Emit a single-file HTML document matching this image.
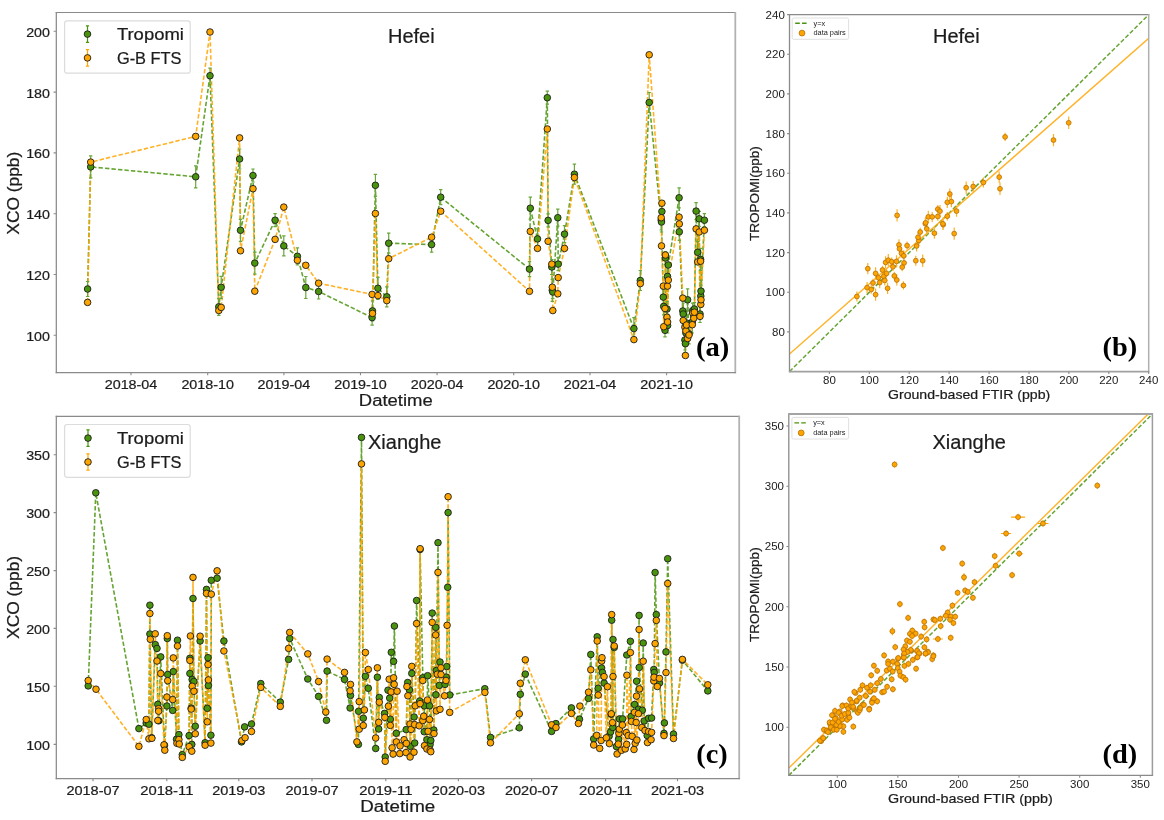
<!DOCTYPE html>
<html><head><meta charset="utf-8"><title>XCO comparison</title>
<style>html,body{margin:0;padding:0;background:#fff}svg{display:block;will-change:transform}</style></head>
<body>
<svg width="1164" height="820" viewBox="0 0 1164 820" font-family='"Liberation Sans", sans-serif'>
<rect width="1164" height="820" fill="#fff"/>
<clipPath id="ca"><rect x="56.3" y="12.5" width="679.0" height="360.1"/></clipPath>
<g clip-path="url(#ca)">
<path d="M87.6 289L90.7 166.9L195.7 176.8L210 75.7L218.8 306.8L221.2 287.3L239.6 159L240.5 230.3L253 175.5L254.8 263.1L275.1 220.2L283.8 245.9L297.4 256.3L305.8 287.5L318.6 291.5L372.1 317.6L372.5 310.9L375.4 185.3L377.9 288.3L386.8 296.8L388.7 243.2L431.6 244.6L440.7 197.2L529.5 269.1L530.3 208.2L537.5 238.9L547.3 97.7L548.1 220.4L551.8 267L552.3 290.3L552.8 292L557.8 217.7L558.2 264.1L564.5 234.1L574.4 174.2L633.9 328.6L640.3 280.5L649.2 102.5L661.2 220L661.9 211.5L661.5 222L663.3 297.1L663.7 306.4L665 330.3L665.4 258L667 309L667.5 276.4L667.6 325.5L668.3 265L679.1 197.8L679.3 231.8L682.8 311L683.2 314L684.9 340L685.4 343.7L685.9 333L686.5 323L687.6 299.8L689 333.8L692.3 322L692.7 310.6L693.8 316L694.4 309L696.1 211.1L697.7 252.3L699.2 218.8L700 314L700.6 259.4L700.8 296.1L701 291.1L704.4 220.2" fill="none" stroke="#4a940d" stroke-width="1.6" stroke-dasharray="4.4 2.1" stroke-linejoin="round" opacity="0.85"/>
<path d="M87.6 302.4L90.7 162.1L195.7 136.4L210 32L218.8 310.5L221.2 307.4L239.6 137.9L240.5 250.8L253 188.7L254.8 291.2L275.1 239.4L283.8 207.1L297.4 260.3L305.8 265.3L318.6 283.2L372.1 294.4L372.5 313.4L375.4 213.5L377.9 295.6L386.8 300.6L388.7 258.7L431.6 237.2L440.7 211.2L529.5 291.3L530.3 231.4L537.5 248.4L547.3 129L548.1 241.3L551.8 264.1L552.3 287.2L552.8 310.6L557.8 293.8L558.2 277.6L564.5 248.4L574.4 177.5L633.9 339.6L640.3 283.6L649.2 54.8L661.2 217.7L661.9 203.2L661.5 245.9L663.3 286.1L663.7 326.7L665 308.5L665.4 255L667 317.2L667.5 286.1L667.6 322L668.3 280.1L679.1 217.1L679.3 223.9L682.8 298.1L683.2 320.5L684.9 327.2L685.4 355.5L685.9 330.9L686.5 325L687.6 338.5L689 335L692.3 324.7L692.7 313L693.8 318.2L694.4 312.2L696.1 228.9L697.7 261.9L699.2 232L700 316.4L700.6 261.2L700.8 304.4L701 299.8L704.4 230.2" fill="none" stroke="#ffa500" stroke-width="1.6" stroke-dasharray="4.4 2.1" stroke-linejoin="round" opacity="0.85"/>
<path d="M87.6 281.5V296.5M85.9 281.5h3.4M85.9 296.5h3.4M90.7 155.9V177.9M89 155.9h3.4M89 177.9h3.4M195.7 165.8V187.8M194 165.8h3.4M194 187.8h3.4M210 68.2V83.2M208.3 68.2h3.4M208.3 83.2h3.4M218.8 298.3V315.3M217.1 298.3h3.4M217.1 315.3h3.4M221.2 276.3V298.3M219.5 276.3h3.4M219.5 298.3h3.4M239.6 149V169M237.9 149h3.4M237.9 169h3.4M240.5 219.3V241.3M238.8 219.3h3.4M238.8 241.3h3.4M253 169V182M251.3 169h3.4M251.3 182h3.4M254.8 252.1V274.1M253.1 252.1h3.4M253.1 274.1h3.4M275.1 213.7V226.7M273.4 213.7h3.4M273.4 226.7h3.4M283.8 235.9V255.9M282.1 235.9h3.4M282.1 255.9h3.4M297.4 247.8V264.8M295.7 247.8h3.4M295.7 264.8h3.4M305.8 276.5V298.5M304.1 276.5h3.4M304.1 298.5h3.4M318.6 284V299M316.9 284h3.4M316.9 299h3.4M372.1 310.1V325.1M370.4 310.1h3.4M370.4 325.1h3.4M372.5 300.9V320.9M370.8 300.9h3.4M370.8 320.9h3.4M375.4 174.3V196.3M373.7 174.3h3.4M373.7 196.3h3.4M377.9 277.3V299.3M376.2 277.3h3.4M376.2 299.3h3.4M386.8 286.8V306.8M385.1 286.8h3.4M385.1 306.8h3.4M388.7 233.2V253.2M387 233.2h3.4M387 253.2h3.4M431.6 237.1V252.1M429.9 237.1h3.4M429.9 252.1h3.4M440.7 189.7V204.7M439 189.7h3.4M439 204.7h3.4M529.5 261.6V276.6M527.8 261.6h3.4M527.8 276.6h3.4M530.3 197.2V219.2M528.6 197.2h3.4M528.6 219.2h3.4M537.5 228.9V248.9M535.8 228.9h3.4M535.8 248.9h3.4M547.3 91.2V104.2M545.6 91.2h3.4M545.6 104.2h3.4M548.1 213.9V226.9M546.4 213.9h3.4M546.4 226.9h3.4M551.8 259.5V274.5M550.1 259.5h3.4M550.1 274.5h3.4M552.3 279.3V301.3M550.6 279.3h3.4M550.6 301.3h3.4M552.8 285.5V298.5M551.1 285.5h3.4M551.1 298.5h3.4M557.8 209.2V226.2M556.1 209.2h3.4M556.1 226.2h3.4M558.2 257.6V270.6M556.5 257.6h3.4M556.5 270.6h3.4M564.5 225.6V242.6M562.8 225.6h3.4M562.8 242.6h3.4M574.4 164.2V184.2M572.7 164.2h3.4M572.7 184.2h3.4M633.9 317.6V339.6M632.2 317.6h3.4M632.2 339.6h3.4M640.3 270.5V290.5M638.6 270.5h3.4M638.6 290.5h3.4M649.2 92.5V112.5M647.5 92.5h3.4M647.5 112.5h3.4M661.2 210V230M659.5 210h3.4M659.5 230h3.4M661.9 200.5V222.5M660.2 200.5h3.4M660.2 222.5h3.4M661.5 212V232M659.8 212h3.4M659.8 232h3.4M663.3 289.6V304.6M661.6 289.6h3.4M661.6 304.6h3.4M663.7 297.9V314.9M662 297.9h3.4M662 314.9h3.4M665 323.8V336.8M663.3 323.8h3.4M663.3 336.8h3.4M665.4 251.5V264.5M663.7 251.5h3.4M663.7 264.5h3.4M667 301.5V316.5M665.3 301.5h3.4M665.3 316.5h3.4M667.5 266.4V286.4M665.8 266.4h3.4M665.8 286.4h3.4M667.6 318V333M665.9 318h3.4M665.9 333h3.4M668.3 256.5V273.5M666.6 256.5h3.4M666.6 273.5h3.4M679.1 187.8V207.8M677.4 187.8h3.4M677.4 207.8h3.4M679.3 223.3V240.3M677.6 223.3h3.4M677.6 240.3h3.4M682.8 301V321M681.1 301h3.4M681.1 321h3.4M683.2 303V325M681.5 303h3.4M681.5 325h3.4M684.9 330V350M683.2 330h3.4M683.2 350h3.4M685.4 332.7V354.7M683.7 332.7h3.4M683.7 354.7h3.4M685.9 324.5V341.5M684.2 324.5h3.4M684.2 341.5h3.4M686.5 312V334M684.8 312h3.4M684.8 334h3.4M687.6 288.8V310.8M685.9 288.8h3.4M685.9 310.8h3.4M689 323.8V343.8M687.3 323.8h3.4M687.3 343.8h3.4M692.3 311V333M690.6 311h3.4M690.6 333h3.4M692.7 303.1V318.1M691 303.1h3.4M691 318.1h3.4M693.8 307.5V324.5M692.1 307.5h3.4M692.1 324.5h3.4M694.4 302.5V315.5M692.7 302.5h3.4M692.7 315.5h3.4M696.1 202.6V219.6M694.4 202.6h3.4M694.4 219.6h3.4M697.7 241.3V263.3M696 241.3h3.4M696 263.3h3.4M699.2 211.3V226.3M697.5 211.3h3.4M697.5 226.3h3.4M700 305.5V322.5M698.3 305.5h3.4M698.3 322.5h3.4M700.6 248.4V270.4M698.9 248.4h3.4M698.9 270.4h3.4M700.8 285.1V307.1M699.1 285.1h3.4M699.1 307.1h3.4M701 280.1V302.1M699.3 280.1h3.4M699.3 302.1h3.4M704.4 213.7V226.7M702.7 213.7h3.4M702.7 226.7h3.4" fill="none" stroke="#6aa63a" stroke-width="1.2"/>
<g fill="#4a940d" stroke="#1c1c1c" stroke-width="0.9">
<circle cx="87.6" cy="289" r="3.3"/><circle cx="90.7" cy="166.9" r="3.3"/><circle cx="195.7" cy="176.8" r="3.3"/><circle cx="210" cy="75.7" r="3.3"/><circle cx="218.8" cy="306.8" r="3.3"/><circle cx="221.2" cy="287.3" r="3.3"/><circle cx="239.6" cy="159" r="3.3"/><circle cx="240.5" cy="230.3" r="3.3"/><circle cx="253" cy="175.5" r="3.3"/><circle cx="254.8" cy="263.1" r="3.3"/><circle cx="275.1" cy="220.2" r="3.3"/><circle cx="283.8" cy="245.9" r="3.3"/><circle cx="297.4" cy="256.3" r="3.3"/><circle cx="305.8" cy="287.5" r="3.3"/><circle cx="318.6" cy="291.5" r="3.3"/><circle cx="372.1" cy="317.6" r="3.3"/><circle cx="372.5" cy="310.9" r="3.3"/><circle cx="375.4" cy="185.3" r="3.3"/><circle cx="377.9" cy="288.3" r="3.3"/><circle cx="386.8" cy="296.8" r="3.3"/><circle cx="388.7" cy="243.2" r="3.3"/><circle cx="431.6" cy="244.6" r="3.3"/><circle cx="440.7" cy="197.2" r="3.3"/><circle cx="529.5" cy="269.1" r="3.3"/><circle cx="530.3" cy="208.2" r="3.3"/><circle cx="537.5" cy="238.9" r="3.3"/><circle cx="547.3" cy="97.7" r="3.3"/><circle cx="548.1" cy="220.4" r="3.3"/><circle cx="551.8" cy="267" r="3.3"/><circle cx="552.3" cy="290.3" r="3.3"/><circle cx="552.8" cy="292" r="3.3"/><circle cx="557.8" cy="217.7" r="3.3"/><circle cx="558.2" cy="264.1" r="3.3"/><circle cx="564.5" cy="234.1" r="3.3"/><circle cx="574.4" cy="174.2" r="3.3"/><circle cx="633.9" cy="328.6" r="3.3"/><circle cx="640.3" cy="280.5" r="3.3"/><circle cx="649.2" cy="102.5" r="3.3"/><circle cx="661.2" cy="220" r="3.3"/><circle cx="661.9" cy="211.5" r="3.3"/><circle cx="661.5" cy="222" r="3.3"/><circle cx="663.3" cy="297.1" r="3.3"/><circle cx="663.7" cy="306.4" r="3.3"/><circle cx="665" cy="330.3" r="3.3"/><circle cx="665.4" cy="258" r="3.3"/><circle cx="667" cy="309" r="3.3"/><circle cx="667.5" cy="276.4" r="3.3"/><circle cx="667.6" cy="325.5" r="3.3"/><circle cx="668.3" cy="265" r="3.3"/><circle cx="679.1" cy="197.8" r="3.3"/><circle cx="679.3" cy="231.8" r="3.3"/><circle cx="682.8" cy="311" r="3.3"/><circle cx="683.2" cy="314" r="3.3"/><circle cx="684.9" cy="340" r="3.3"/><circle cx="685.4" cy="343.7" r="3.3"/><circle cx="685.9" cy="333" r="3.3"/><circle cx="686.5" cy="323" r="3.3"/><circle cx="687.6" cy="299.8" r="3.3"/><circle cx="689" cy="333.8" r="3.3"/><circle cx="692.3" cy="322" r="3.3"/><circle cx="692.7" cy="310.6" r="3.3"/><circle cx="693.8" cy="316" r="3.3"/><circle cx="694.4" cy="309" r="3.3"/><circle cx="696.1" cy="211.1" r="3.3"/><circle cx="697.7" cy="252.3" r="3.3"/><circle cx="699.2" cy="218.8" r="3.3"/><circle cx="700" cy="314" r="3.3"/><circle cx="700.6" cy="259.4" r="3.3"/><circle cx="700.8" cy="296.1" r="3.3"/><circle cx="701" cy="291.1" r="3.3"/><circle cx="704.4" cy="220.2" r="3.3"/>
</g>
<g fill="#ffa500" stroke="#1c1c1c" stroke-width="0.9">
<circle cx="87.6" cy="302.4" r="3.3"/><circle cx="90.7" cy="162.1" r="3.3"/><circle cx="195.7" cy="136.4" r="3.3"/><circle cx="210" cy="32" r="3.3"/><circle cx="218.8" cy="310.5" r="3.3"/><circle cx="221.2" cy="307.4" r="3.3"/><circle cx="239.6" cy="137.9" r="3.3"/><circle cx="240.5" cy="250.8" r="3.3"/><circle cx="253" cy="188.7" r="3.3"/><circle cx="254.8" cy="291.2" r="3.3"/><circle cx="275.1" cy="239.4" r="3.3"/><circle cx="283.8" cy="207.1" r="3.3"/><circle cx="297.4" cy="260.3" r="3.3"/><circle cx="305.8" cy="265.3" r="3.3"/><circle cx="318.6" cy="283.2" r="3.3"/><circle cx="372.1" cy="294.4" r="3.3"/><circle cx="372.5" cy="313.4" r="3.3"/><circle cx="375.4" cy="213.5" r="3.3"/><circle cx="377.9" cy="295.6" r="3.3"/><circle cx="386.8" cy="300.6" r="3.3"/><circle cx="388.7" cy="258.7" r="3.3"/><circle cx="431.6" cy="237.2" r="3.3"/><circle cx="440.7" cy="211.2" r="3.3"/><circle cx="529.5" cy="291.3" r="3.3"/><circle cx="530.3" cy="231.4" r="3.3"/><circle cx="537.5" cy="248.4" r="3.3"/><circle cx="547.3" cy="129" r="3.3"/><circle cx="548.1" cy="241.3" r="3.3"/><circle cx="551.8" cy="264.1" r="3.3"/><circle cx="552.3" cy="287.2" r="3.3"/><circle cx="552.8" cy="310.6" r="3.3"/><circle cx="557.8" cy="293.8" r="3.3"/><circle cx="558.2" cy="277.6" r="3.3"/><circle cx="564.5" cy="248.4" r="3.3"/><circle cx="574.4" cy="177.5" r="3.3"/><circle cx="633.9" cy="339.6" r="3.3"/><circle cx="640.3" cy="283.6" r="3.3"/><circle cx="649.2" cy="54.8" r="3.3"/><circle cx="661.2" cy="217.7" r="3.3"/><circle cx="661.9" cy="203.2" r="3.3"/><circle cx="661.5" cy="245.9" r="3.3"/><circle cx="663.3" cy="286.1" r="3.3"/><circle cx="663.7" cy="326.7" r="3.3"/><circle cx="665" cy="308.5" r="3.3"/><circle cx="665.4" cy="255" r="3.3"/><circle cx="667" cy="317.2" r="3.3"/><circle cx="667.5" cy="286.1" r="3.3"/><circle cx="667.6" cy="322" r="3.3"/><circle cx="668.3" cy="280.1" r="3.3"/><circle cx="679.1" cy="217.1" r="3.3"/><circle cx="679.3" cy="223.9" r="3.3"/><circle cx="682.8" cy="298.1" r="3.3"/><circle cx="683.2" cy="320.5" r="3.3"/><circle cx="684.9" cy="327.2" r="3.3"/><circle cx="685.4" cy="355.5" r="3.3"/><circle cx="685.9" cy="330.9" r="3.3"/><circle cx="686.5" cy="325" r="3.3"/><circle cx="687.6" cy="338.5" r="3.3"/><circle cx="689" cy="335" r="3.3"/><circle cx="692.3" cy="324.7" r="3.3"/><circle cx="692.7" cy="313" r="3.3"/><circle cx="693.8" cy="318.2" r="3.3"/><circle cx="694.4" cy="312.2" r="3.3"/><circle cx="696.1" cy="228.9" r="3.3"/><circle cx="697.7" cy="261.9" r="3.3"/><circle cx="699.2" cy="232" r="3.3"/><circle cx="700" cy="316.4" r="3.3"/><circle cx="700.6" cy="261.2" r="3.3"/><circle cx="700.8" cy="304.4" r="3.3"/><circle cx="701" cy="299.8" r="3.3"/><circle cx="704.4" cy="230.2" r="3.3"/>
</g>
</g>
<path d="M56.3 11.9V373.2" stroke="#858585" stroke-width="1.2"/>
<path d="M55.7 12.5H735.9" stroke="#8a8a8a" stroke-width="1.2"/>
<path d="M735.3 11.9V373.2" stroke="#b2b2b2" stroke-width="1.8"/>
<path d="M55.7 372.6H735.9" stroke="#8a8a8a" stroke-width="1.3"/>
<path d="M131 372.6v2.7M207.7 372.6v2.7M283.9 372.6v2.7M360.5 372.6v2.7M437.1 372.6v2.7M513.7 372.6v2.7M590 372.6v2.7M666.6 372.6v2.7" stroke="#8a8a8a" stroke-width="1.1" fill="none"/>
<text x="131" y="388.6" font-size="13.2" text-anchor="middle" fill="#1c1c1c" stroke="#1c1c1c" stroke-width="0.22" textLength="52.6" lengthAdjust="spacingAndGlyphs">2018-04</text>
<text x="207.7" y="388.6" font-size="13.2" text-anchor="middle" fill="#1c1c1c" stroke="#1c1c1c" stroke-width="0.22" textLength="52.6" lengthAdjust="spacingAndGlyphs">2018-10</text>
<text x="283.9" y="388.6" font-size="13.2" text-anchor="middle" fill="#1c1c1c" stroke="#1c1c1c" stroke-width="0.22" textLength="52.6" lengthAdjust="spacingAndGlyphs">2019-04</text>
<text x="360.5" y="388.6" font-size="13.2" text-anchor="middle" fill="#1c1c1c" stroke="#1c1c1c" stroke-width="0.22" textLength="52.6" lengthAdjust="spacingAndGlyphs">2019-10</text>
<text x="437.1" y="388.6" font-size="13.2" text-anchor="middle" fill="#1c1c1c" stroke="#1c1c1c" stroke-width="0.22" textLength="52.6" lengthAdjust="spacingAndGlyphs">2020-04</text>
<text x="513.7" y="388.6" font-size="13.2" text-anchor="middle" fill="#1c1c1c" stroke="#1c1c1c" stroke-width="0.22" textLength="52.6" lengthAdjust="spacingAndGlyphs">2020-10</text>
<text x="590" y="388.6" font-size="13.2" text-anchor="middle" fill="#1c1c1c" stroke="#1c1c1c" stroke-width="0.22" textLength="52.6" lengthAdjust="spacingAndGlyphs">2021-04</text>
<text x="666.6" y="388.6" font-size="13.2" text-anchor="middle" fill="#1c1c1c" stroke="#1c1c1c" stroke-width="0.22" textLength="52.6" lengthAdjust="spacingAndGlyphs">2021-10</text>
<path d="M56.3 31.3h-2.7M56.3 92.1h-2.7M56.3 152.9h-2.7M56.3 213.7h-2.7M56.3 274.5h-2.7M56.3 335.3h-2.7" stroke="#8a8a8a" stroke-width="1.1" fill="none"/>
<text x="50" y="36.7" font-size="13.2" text-anchor="end" fill="#1c1c1c" stroke="#1c1c1c" stroke-width="0.22" textLength="23.8" lengthAdjust="spacingAndGlyphs">200</text>
<text x="50" y="97.5" font-size="13.2" text-anchor="end" fill="#1c1c1c" stroke="#1c1c1c" stroke-width="0.22" textLength="23.8" lengthAdjust="spacingAndGlyphs">180</text>
<text x="50" y="158.3" font-size="13.2" text-anchor="end" fill="#1c1c1c" stroke="#1c1c1c" stroke-width="0.22" textLength="23.8" lengthAdjust="spacingAndGlyphs">160</text>
<text x="50" y="219.1" font-size="13.2" text-anchor="end" fill="#1c1c1c" stroke="#1c1c1c" stroke-width="0.22" textLength="23.8" lengthAdjust="spacingAndGlyphs">140</text>
<text x="50" y="279.9" font-size="13.2" text-anchor="end" fill="#1c1c1c" stroke="#1c1c1c" stroke-width="0.22" textLength="23.8" lengthAdjust="spacingAndGlyphs">120</text>
<text x="50" y="340.7" font-size="13.2" text-anchor="end" fill="#1c1c1c" stroke="#1c1c1c" stroke-width="0.22" textLength="23.8" lengthAdjust="spacingAndGlyphs">100</text>
<text x="395.8" y="406.3" font-size="15.8" text-anchor="middle" fill="#1c1c1c" stroke="#1c1c1c" stroke-width="0.22" textLength="73.9" lengthAdjust="spacingAndGlyphs">Datetime</text>
<text x="19" y="193.2" font-size="15.8" text-anchor="middle" fill="#1c1c1c" stroke="#1c1c1c" stroke-width="0.22" textLength="83" lengthAdjust="spacingAndGlyphs" transform="rotate(-90 19 193.2)">XCO (ppb)</text>
<text x="388" y="42.8" font-size="20" text-anchor="start" fill="#1c1c1c" stroke="#1c1c1c" stroke-width="0.22">Hefei</text>
<rect x="64.6" y="20.8" width="125.6" height="52.4" rx="2.5" fill="#fff" fill-opacity="0.8" stroke="#dcdcdc" stroke-width="1.2"/>
<path d="M87.5 25.9V42.3M85.9 25.9h3.2M85.9 42.3h3.2" fill="none" stroke="#4a940d" stroke-width="1.2"/>
<g fill="#4a940d" stroke="#1c1c1c" stroke-width="0.9">
<circle cx="87.5" cy="34.1" r="3.3"/>
</g>
<path d="M87.5 49.7V66.1M85.9 49.7h3.2M85.9 66.1h3.2" fill="none" stroke="#ffa500" stroke-width="1.2"/>
<g fill="#ffa500" stroke="#1c1c1c" stroke-width="0.9">
<circle cx="87.5" cy="57.9" r="3.3"/>
</g>
<text x="116.9" y="39.9" font-size="15.6" text-anchor="start" fill="#1c1c1c" stroke="#1c1c1c" stroke-width="0.22" textLength="67" lengthAdjust="spacingAndGlyphs">Tropomi</text>
<text x="116.9" y="63.7" font-size="15.6" text-anchor="start" fill="#1c1c1c" stroke="#1c1c1c" stroke-width="0.22" textLength="64.6" lengthAdjust="spacingAndGlyphs">G-B FTS</text>
<text x="696" y="356.1" font-size="27.6" text-anchor="start" fill="#000" font-family='"Liberation Serif", serif' font-weight="bold" textLength="33.4" lengthAdjust="spacingAndGlyphs">(a)</text>
<clipPath id="cc"><rect x="56.3" y="416.3" width="682.9000000000001" height="362.3"/></clipPath>
<g clip-path="url(#cc)">
<path d="M88.2 685.9L95.8 492.8L138.9 728.6L146.2 723L148.9 724.2L149.9 605.2L149.9 634L151.6 737.7L155.3 644.6L157 648.4L157.8 704.4L158.8 720.8L160.7 656.9L164.5 745.2L166.9 706L167.3 638.5L167.7 674.5L172.7 710.4L173.3 671.6L176.5 739.2L177.5 640.2L178.9 734.6L182.3 754.7L189.1 735.6L189.9 658.3L189.9 673.5L191.2 708.1L191.8 744.4L192.2 679.5L193 598.5L193.9 681.5L195.3 726.3L200.1 641L205.1 742.7L206.5 589.4L207.3 708.3L208 657.7L208.4 685.5L210.9 735.2L211.3 580.3L217.1 578.2L223.9 641L241.5 741.9L244.6 726.9L251.5 724L260.8 683.6L280.3 702.1L288.6 659.4L289.7 638.5L307.8 679L318.6 696.4L326.5 720.3L327.1 671.1L344.5 679.4L350.1 708L350.5 695.4L358.4 744.4L358.6 711.3L361.5 437.4L363.3 718.2L365.4 676.3L368.3 688.3L375.7 748.5L377.4 677.2L378.7 729L379.3 697.5L384.5 713.4L385.2 757L388 690.2L389.7 698.1L390.3 719.2L391.3 652.3L393.6 661.4L394.4 626L396.3 733.3L406.2 729.6L407.7 682.5L409.4 689.8L410.3 746.3L411.8 673.4L414.1 717L414.7 743L416.6 600.5L419.7 701L420.1 549.5L422.8 677.8L424.2 731.7L424.3 705.8L426.9 739.7L427.6 675.7L429.5 705.8L430.1 744.4L430.8 740.5L432.2 613.1L433.8 730L435.7 627.4L435.9 694.8L436.3 670.5L438 542.7L439.4 685.4L440 662L445 684.4L446.2 677.1L446.7 666.6L447.7 587.3L448.1 512.6L449.8 695L484.8 688.7L490.5 737.4L519.3 727.8L520.3 694.3L525.3 674.1L551.6 731.4L555.9 723.6L571.4 707.9L579.5 719.2L588.5 698.4L590.8 654.5L593.7 738.9L597.2 636.8L598.2 688.3L601.6 668L602.4 672.4L604.1 683.1L609.1 736.3L610.6 731.9L611.2 714.2L611.7 620.2L612.8 727.5L613 639.5L614.2 647.5L616.4 746.6L618.6 739.3L619.5 718.9L622.6 718.9L626.8 655L630.4 641.3L631.1 716.6L634.6 704.5L636.6 681.2L638.4 709.3L639.1 615.4L639.2 667.5L642.3 710.3L643.2 643L644.2 721L647.2 735.6L648.6 718.3L651.6 718L653.8 669.5L654.2 672.5L655.1 572.5L656.3 614.6L659.5 683L664 733.4L664.4 722.9L666 651.9L667.7 558.7L673.5 734.1L682.4 660.2L707.8 690.9" fill="none" stroke="#4a940d" stroke-width="1.6" stroke-dasharray="4.4 2.1" stroke-linejoin="round" opacity="0.85"/>
<path d="M88.2 680.5L96 689.2L138.9 746.4L146.2 719.5L148.9 738.8L149.9 613.5L150.3 639.3L151.9 738.3L155.2 633.8L157 661L157.8 720.5L158.6 708.7L158.6 711.2L160.7 673.5L164 744.8L164.8 750.2L166.9 697.1L167.3 635.7L167.7 680.7L172.7 699.6L173.3 657.9L176.9 743.3L177.5 646L178.9 739.6L179.2 744L182.3 757.4L189.1 746.6L189.9 660.4L190.4 636L191.2 709.1L191.8 751.2L192.2 686.3L193 577.4L193.9 691.3L195.3 733.8L200.1 636.2L205.1 745.2L206.5 593.4L207.3 721.8L208 664.6L208.4 679.9L210.9 743.1L211.3 594.2L217.1 570.8L223.9 651L241.9 740.6L245.1 737.7L251.5 731.5L260.8 687.4L280.3 706.4L288.6 648.4L289.7 632.4L307.8 653.9L318.6 681.5L325.8 712L327.1 659.1L344.5 672.4L350.1 690.8L350.5 684.4L356.9 741.9L359.2 701.6L359.2 729.2L361.5 463.9L363.3 725.5L364.4 709.9L365.4 652.5L368.3 669.5L375.7 738L377.4 667.8L378.7 722.4L379.3 702.2L384.8 717.4L385.2 761.3L388.4 706.2L389.2 679.2L390.3 725.4L391.1 691.9L392.1 747.8L393.1 754.1L393.6 677.8L394.2 684.4L396.4 741.9L397.1 691.2L399.8 753.6L400.1 745.9L404.1 739.7L406 752.6L406.4 743.4L406.9 686.5L407.9 695.8L410 724L410.1 757L411.1 729.4L411.8 666.4L414 752.2L414.6 724.6L415.2 705.8L416.6 623.5L419.2 725.8L420.1 548.7L420.1 703.7L422.8 680.5L422.8 720.5L423.7 716.2L424.5 745.6L426.9 749L427.4 700L428.1 731.3L429.5 719.4L430.1 750L430.8 751.7L432.2 622.4L434 733.6L435.7 634.9L436.3 710.9L437.3 674.2L438 572.4L440 709.3L440.9 667.8L441 674.5L444.6 695.8L446 680.5L447.1 625.3L448.1 496.7L449.7 712.4L484.9 692.4L490.5 742.8L519.3 713.8L520.3 683.3L525.3 659.8L551.6 724.8L556 727.5L571.4 713.4L578.4 723.5L579.9 706.1L588.5 692.2L590.8 669.7L593.7 745L596.7 735.3L597.2 641L598.2 695.1L599.7 748.4L601.1 740.5L601.7 661L602 657.7L604.1 676.6L606.3 737.8L607.4 686.7L609.4 743.6L611.3 713.8L611.7 614.6L612.5 722.6L613 676.5L614.2 646L617.1 754L618.3 744.1L618.9 733.4L619.3 729.1L621.5 750.3L622.4 725L625.2 748.9L626.3 732.6L626.7 744.4L626.9 675.2L628.2 735.6L630.4 652.6L631.4 721.4L632.1 736.3L634 749.5L634.5 712.4L635.2 743.3L636.2 722.5L636.5 696.1L636.9 740L638.4 713.7L639.1 629.5L639.5 688.9L641.8 727.5L643.2 661.2L645 730.5L647.5 742.6L648.6 731.5L651.1 739.7L651.6 732.4L653.8 680.9L654 677.2L655.1 643.6L656.3 620.4L657.3 686.5L659.4 678.4L664 735.6L666 672.6L667.7 583.5L673.5 738.5L682.4 659.4L707.8 684.8" fill="none" stroke="#ffa500" stroke-width="1.6" stroke-dasharray="4.4 2.1" stroke-linejoin="round" opacity="0.85"/>
<g fill="#4a940d" stroke="#1c1c1c" stroke-width="0.9">
<circle cx="88.2" cy="685.9" r="3.3"/><circle cx="95.8" cy="492.8" r="3.3"/><circle cx="138.9" cy="728.6" r="3.3"/><circle cx="146.2" cy="723" r="3.3"/><circle cx="148.9" cy="724.2" r="3.3"/><circle cx="149.9" cy="605.2" r="3.3"/><circle cx="149.9" cy="634" r="3.3"/><circle cx="151.6" cy="737.7" r="3.3"/><circle cx="155.3" cy="644.6" r="3.3"/><circle cx="157" cy="648.4" r="3.3"/><circle cx="157.8" cy="704.4" r="3.3"/><circle cx="158.8" cy="720.8" r="3.3"/><circle cx="160.7" cy="656.9" r="3.3"/><circle cx="164.5" cy="745.2" r="3.3"/><circle cx="166.9" cy="706" r="3.3"/><circle cx="167.3" cy="638.5" r="3.3"/><circle cx="167.7" cy="674.5" r="3.3"/><circle cx="172.7" cy="710.4" r="3.3"/><circle cx="173.3" cy="671.6" r="3.3"/><circle cx="176.5" cy="739.2" r="3.3"/><circle cx="177.5" cy="640.2" r="3.3"/><circle cx="178.9" cy="734.6" r="3.3"/><circle cx="182.3" cy="754.7" r="3.3"/><circle cx="189.1" cy="735.6" r="3.3"/><circle cx="189.9" cy="658.3" r="3.3"/><circle cx="189.9" cy="673.5" r="3.3"/><circle cx="191.2" cy="708.1" r="3.3"/><circle cx="191.8" cy="744.4" r="3.3"/><circle cx="192.2" cy="679.5" r="3.3"/><circle cx="193" cy="598.5" r="3.3"/><circle cx="193.9" cy="681.5" r="3.3"/><circle cx="195.3" cy="726.3" r="3.3"/><circle cx="200.1" cy="641" r="3.3"/><circle cx="205.1" cy="742.7" r="3.3"/><circle cx="206.5" cy="589.4" r="3.3"/><circle cx="207.3" cy="708.3" r="3.3"/><circle cx="208" cy="657.7" r="3.3"/><circle cx="208.4" cy="685.5" r="3.3"/><circle cx="210.9" cy="735.2" r="3.3"/><circle cx="211.3" cy="580.3" r="3.3"/><circle cx="217.1" cy="578.2" r="3.3"/><circle cx="223.9" cy="641" r="3.3"/><circle cx="241.5" cy="741.9" r="3.3"/><circle cx="244.6" cy="726.9" r="3.3"/><circle cx="251.5" cy="724" r="3.3"/><circle cx="260.8" cy="683.6" r="3.3"/><circle cx="280.3" cy="702.1" r="3.3"/><circle cx="288.6" cy="659.4" r="3.3"/><circle cx="289.7" cy="638.5" r="3.3"/><circle cx="307.8" cy="679" r="3.3"/><circle cx="318.6" cy="696.4" r="3.3"/><circle cx="326.5" cy="720.3" r="3.3"/><circle cx="327.1" cy="671.1" r="3.3"/><circle cx="344.5" cy="679.4" r="3.3"/><circle cx="350.1" cy="708" r="3.3"/><circle cx="350.5" cy="695.4" r="3.3"/><circle cx="358.4" cy="744.4" r="3.3"/><circle cx="358.6" cy="711.3" r="3.3"/><circle cx="361.5" cy="437.4" r="3.3"/><circle cx="363.3" cy="718.2" r="3.3"/><circle cx="365.4" cy="676.3" r="3.3"/><circle cx="368.3" cy="688.3" r="3.3"/><circle cx="375.7" cy="748.5" r="3.3"/><circle cx="377.4" cy="677.2" r="3.3"/><circle cx="378.7" cy="729" r="3.3"/><circle cx="379.3" cy="697.5" r="3.3"/><circle cx="384.5" cy="713.4" r="3.3"/><circle cx="385.2" cy="757" r="3.3"/><circle cx="388" cy="690.2" r="3.3"/><circle cx="389.7" cy="698.1" r="3.3"/><circle cx="390.3" cy="719.2" r="3.3"/><circle cx="391.3" cy="652.3" r="3.3"/><circle cx="393.6" cy="661.4" r="3.3"/><circle cx="394.4" cy="626" r="3.3"/><circle cx="396.3" cy="733.3" r="3.3"/><circle cx="406.2" cy="729.6" r="3.3"/><circle cx="407.7" cy="682.5" r="3.3"/><circle cx="409.4" cy="689.8" r="3.3"/><circle cx="410.3" cy="746.3" r="3.3"/><circle cx="411.8" cy="673.4" r="3.3"/><circle cx="414.1" cy="717" r="3.3"/><circle cx="414.7" cy="743" r="3.3"/><circle cx="416.6" cy="600.5" r="3.3"/><circle cx="419.7" cy="701" r="3.3"/><circle cx="420.1" cy="549.5" r="3.3"/><circle cx="422.8" cy="677.8" r="3.3"/><circle cx="424.2" cy="731.7" r="3.3"/><circle cx="424.3" cy="705.8" r="3.3"/><circle cx="426.9" cy="739.7" r="3.3"/><circle cx="427.6" cy="675.7" r="3.3"/><circle cx="429.5" cy="705.8" r="3.3"/><circle cx="430.1" cy="744.4" r="3.3"/><circle cx="430.8" cy="740.5" r="3.3"/><circle cx="432.2" cy="613.1" r="3.3"/><circle cx="433.8" cy="730" r="3.3"/><circle cx="435.7" cy="627.4" r="3.3"/><circle cx="435.9" cy="694.8" r="3.3"/><circle cx="436.3" cy="670.5" r="3.3"/><circle cx="438" cy="542.7" r="3.3"/><circle cx="439.4" cy="685.4" r="3.3"/><circle cx="440" cy="662" r="3.3"/><circle cx="445" cy="684.4" r="3.3"/><circle cx="446.2" cy="677.1" r="3.3"/><circle cx="446.7" cy="666.6" r="3.3"/><circle cx="447.7" cy="587.3" r="3.3"/><circle cx="448.1" cy="512.6" r="3.3"/><circle cx="449.8" cy="695" r="3.3"/><circle cx="484.8" cy="688.7" r="3.3"/><circle cx="490.5" cy="737.4" r="3.3"/><circle cx="519.3" cy="727.8" r="3.3"/><circle cx="520.3" cy="694.3" r="3.3"/><circle cx="525.3" cy="674.1" r="3.3"/><circle cx="551.6" cy="731.4" r="3.3"/><circle cx="555.9" cy="723.6" r="3.3"/><circle cx="571.4" cy="707.9" r="3.3"/><circle cx="579.5" cy="719.2" r="3.3"/><circle cx="588.5" cy="698.4" r="3.3"/><circle cx="590.8" cy="654.5" r="3.3"/><circle cx="593.7" cy="738.9" r="3.3"/><circle cx="597.2" cy="636.8" r="3.3"/><circle cx="598.2" cy="688.3" r="3.3"/><circle cx="601.6" cy="668" r="3.3"/><circle cx="602.4" cy="672.4" r="3.3"/><circle cx="604.1" cy="683.1" r="3.3"/><circle cx="609.1" cy="736.3" r="3.3"/><circle cx="610.6" cy="731.9" r="3.3"/><circle cx="611.2" cy="714.2" r="3.3"/><circle cx="611.7" cy="620.2" r="3.3"/><circle cx="612.8" cy="727.5" r="3.3"/><circle cx="613" cy="639.5" r="3.3"/><circle cx="614.2" cy="647.5" r="3.3"/><circle cx="616.4" cy="746.6" r="3.3"/><circle cx="618.6" cy="739.3" r="3.3"/><circle cx="619.5" cy="718.9" r="3.3"/><circle cx="622.6" cy="718.9" r="3.3"/><circle cx="626.8" cy="655" r="3.3"/><circle cx="630.4" cy="641.3" r="3.3"/><circle cx="631.1" cy="716.6" r="3.3"/><circle cx="634.6" cy="704.5" r="3.3"/><circle cx="636.6" cy="681.2" r="3.3"/><circle cx="638.4" cy="709.3" r="3.3"/><circle cx="639.1" cy="615.4" r="3.3"/><circle cx="639.2" cy="667.5" r="3.3"/><circle cx="642.3" cy="710.3" r="3.3"/><circle cx="643.2" cy="643" r="3.3"/><circle cx="644.2" cy="721" r="3.3"/><circle cx="647.2" cy="735.6" r="3.3"/><circle cx="648.6" cy="718.3" r="3.3"/><circle cx="651.6" cy="718" r="3.3"/><circle cx="653.8" cy="669.5" r="3.3"/><circle cx="654.2" cy="672.5" r="3.3"/><circle cx="655.1" cy="572.5" r="3.3"/><circle cx="656.3" cy="614.6" r="3.3"/><circle cx="659.5" cy="683" r="3.3"/><circle cx="664" cy="733.4" r="3.3"/><circle cx="664.4" cy="722.9" r="3.3"/><circle cx="666" cy="651.9" r="3.3"/><circle cx="667.7" cy="558.7" r="3.3"/><circle cx="673.5" cy="734.1" r="3.3"/><circle cx="682.4" cy="660.2" r="3.3"/><circle cx="707.8" cy="690.9" r="3.3"/>
</g>
<g fill="#ffa500" stroke="#1c1c1c" stroke-width="0.9">
<circle cx="88.2" cy="680.5" r="3.3"/><circle cx="96" cy="689.2" r="3.3"/><circle cx="138.9" cy="746.4" r="3.3"/><circle cx="146.2" cy="719.5" r="3.3"/><circle cx="148.9" cy="738.8" r="3.3"/><circle cx="149.9" cy="613.5" r="3.3"/><circle cx="150.3" cy="639.3" r="3.3"/><circle cx="151.9" cy="738.3" r="3.3"/><circle cx="155.2" cy="633.8" r="3.3"/><circle cx="157" cy="661" r="3.3"/><circle cx="157.8" cy="720.5" r="3.3"/><circle cx="158.6" cy="708.7" r="3.3"/><circle cx="158.6" cy="711.2" r="3.3"/><circle cx="160.7" cy="673.5" r="3.3"/><circle cx="164" cy="744.8" r="3.3"/><circle cx="164.8" cy="750.2" r="3.3"/><circle cx="166.9" cy="697.1" r="3.3"/><circle cx="167.3" cy="635.7" r="3.3"/><circle cx="167.7" cy="680.7" r="3.3"/><circle cx="172.7" cy="699.6" r="3.3"/><circle cx="173.3" cy="657.9" r="3.3"/><circle cx="176.9" cy="743.3" r="3.3"/><circle cx="177.5" cy="646" r="3.3"/><circle cx="178.9" cy="739.6" r="3.3"/><circle cx="179.2" cy="744" r="3.3"/><circle cx="182.3" cy="757.4" r="3.3"/><circle cx="189.1" cy="746.6" r="3.3"/><circle cx="189.9" cy="660.4" r="3.3"/><circle cx="190.4" cy="636" r="3.3"/><circle cx="191.2" cy="709.1" r="3.3"/><circle cx="191.8" cy="751.2" r="3.3"/><circle cx="192.2" cy="686.3" r="3.3"/><circle cx="193" cy="577.4" r="3.3"/><circle cx="193.9" cy="691.3" r="3.3"/><circle cx="195.3" cy="733.8" r="3.3"/><circle cx="200.1" cy="636.2" r="3.3"/><circle cx="205.1" cy="745.2" r="3.3"/><circle cx="206.5" cy="593.4" r="3.3"/><circle cx="207.3" cy="721.8" r="3.3"/><circle cx="208" cy="664.6" r="3.3"/><circle cx="208.4" cy="679.9" r="3.3"/><circle cx="210.9" cy="743.1" r="3.3"/><circle cx="211.3" cy="594.2" r="3.3"/><circle cx="217.1" cy="570.8" r="3.3"/><circle cx="223.9" cy="651" r="3.3"/><circle cx="241.9" cy="740.6" r="3.3"/><circle cx="245.1" cy="737.7" r="3.3"/><circle cx="251.5" cy="731.5" r="3.3"/><circle cx="260.8" cy="687.4" r="3.3"/><circle cx="280.3" cy="706.4" r="3.3"/><circle cx="288.6" cy="648.4" r="3.3"/><circle cx="289.7" cy="632.4" r="3.3"/><circle cx="307.8" cy="653.9" r="3.3"/><circle cx="318.6" cy="681.5" r="3.3"/><circle cx="325.8" cy="712" r="3.3"/><circle cx="327.1" cy="659.1" r="3.3"/><circle cx="344.5" cy="672.4" r="3.3"/><circle cx="350.1" cy="690.8" r="3.3"/><circle cx="350.5" cy="684.4" r="3.3"/><circle cx="356.9" cy="741.9" r="3.3"/><circle cx="359.2" cy="701.6" r="3.3"/><circle cx="359.2" cy="729.2" r="3.3"/><circle cx="361.5" cy="463.9" r="3.3"/><circle cx="363.3" cy="725.5" r="3.3"/><circle cx="364.4" cy="709.9" r="3.3"/><circle cx="365.4" cy="652.5" r="3.3"/><circle cx="368.3" cy="669.5" r="3.3"/><circle cx="375.7" cy="738" r="3.3"/><circle cx="377.4" cy="667.8" r="3.3"/><circle cx="378.7" cy="722.4" r="3.3"/><circle cx="379.3" cy="702.2" r="3.3"/><circle cx="384.8" cy="717.4" r="3.3"/><circle cx="385.2" cy="761.3" r="3.3"/><circle cx="388.4" cy="706.2" r="3.3"/><circle cx="389.2" cy="679.2" r="3.3"/><circle cx="390.3" cy="725.4" r="3.3"/><circle cx="391.1" cy="691.9" r="3.3"/><circle cx="392.1" cy="747.8" r="3.3"/><circle cx="393.1" cy="754.1" r="3.3"/><circle cx="393.6" cy="677.8" r="3.3"/><circle cx="394.2" cy="684.4" r="3.3"/><circle cx="396.4" cy="741.9" r="3.3"/><circle cx="397.1" cy="691.2" r="3.3"/><circle cx="399.8" cy="753.6" r="3.3"/><circle cx="400.1" cy="745.9" r="3.3"/><circle cx="404.1" cy="739.7" r="3.3"/><circle cx="406" cy="752.6" r="3.3"/><circle cx="406.4" cy="743.4" r="3.3"/><circle cx="406.9" cy="686.5" r="3.3"/><circle cx="407.9" cy="695.8" r="3.3"/><circle cx="410" cy="724" r="3.3"/><circle cx="410.1" cy="757" r="3.3"/><circle cx="411.1" cy="729.4" r="3.3"/><circle cx="411.8" cy="666.4" r="3.3"/><circle cx="414" cy="752.2" r="3.3"/><circle cx="414.6" cy="724.6" r="3.3"/><circle cx="415.2" cy="705.8" r="3.3"/><circle cx="416.6" cy="623.5" r="3.3"/><circle cx="419.2" cy="725.8" r="3.3"/><circle cx="420.1" cy="548.7" r="3.3"/><circle cx="420.1" cy="703.7" r="3.3"/><circle cx="422.8" cy="680.5" r="3.3"/><circle cx="422.8" cy="720.5" r="3.3"/><circle cx="423.7" cy="716.2" r="3.3"/><circle cx="424.5" cy="745.6" r="3.3"/><circle cx="426.9" cy="749" r="3.3"/><circle cx="427.4" cy="700" r="3.3"/><circle cx="428.1" cy="731.3" r="3.3"/><circle cx="429.5" cy="719.4" r="3.3"/><circle cx="430.1" cy="750" r="3.3"/><circle cx="430.8" cy="751.7" r="3.3"/><circle cx="432.2" cy="622.4" r="3.3"/><circle cx="434" cy="733.6" r="3.3"/><circle cx="435.7" cy="634.9" r="3.3"/><circle cx="436.3" cy="710.9" r="3.3"/><circle cx="437.3" cy="674.2" r="3.3"/><circle cx="438" cy="572.4" r="3.3"/><circle cx="440" cy="709.3" r="3.3"/><circle cx="440.9" cy="667.8" r="3.3"/><circle cx="441" cy="674.5" r="3.3"/><circle cx="444.6" cy="695.8" r="3.3"/><circle cx="446" cy="680.5" r="3.3"/><circle cx="447.1" cy="625.3" r="3.3"/><circle cx="448.1" cy="496.7" r="3.3"/><circle cx="449.7" cy="712.4" r="3.3"/><circle cx="484.9" cy="692.4" r="3.3"/><circle cx="490.5" cy="742.8" r="3.3"/><circle cx="519.3" cy="713.8" r="3.3"/><circle cx="520.3" cy="683.3" r="3.3"/><circle cx="525.3" cy="659.8" r="3.3"/><circle cx="551.6" cy="724.8" r="3.3"/><circle cx="556" cy="727.5" r="3.3"/><circle cx="571.4" cy="713.4" r="3.3"/><circle cx="578.4" cy="723.5" r="3.3"/><circle cx="579.9" cy="706.1" r="3.3"/><circle cx="588.5" cy="692.2" r="3.3"/><circle cx="590.8" cy="669.7" r="3.3"/><circle cx="593.7" cy="745" r="3.3"/><circle cx="596.7" cy="735.3" r="3.3"/><circle cx="597.2" cy="641" r="3.3"/><circle cx="598.2" cy="695.1" r="3.3"/><circle cx="599.7" cy="748.4" r="3.3"/><circle cx="601.1" cy="740.5" r="3.3"/><circle cx="601.7" cy="661" r="3.3"/><circle cx="602" cy="657.7" r="3.3"/><circle cx="604.1" cy="676.6" r="3.3"/><circle cx="606.3" cy="737.8" r="3.3"/><circle cx="607.4" cy="686.7" r="3.3"/><circle cx="609.4" cy="743.6" r="3.3"/><circle cx="611.3" cy="713.8" r="3.3"/><circle cx="611.7" cy="614.6" r="3.3"/><circle cx="612.5" cy="722.6" r="3.3"/><circle cx="613" cy="676.5" r="3.3"/><circle cx="614.2" cy="646" r="3.3"/><circle cx="617.1" cy="754" r="3.3"/><circle cx="618.3" cy="744.1" r="3.3"/><circle cx="618.9" cy="733.4" r="3.3"/><circle cx="619.3" cy="729.1" r="3.3"/><circle cx="621.5" cy="750.3" r="3.3"/><circle cx="622.4" cy="725" r="3.3"/><circle cx="625.2" cy="748.9" r="3.3"/><circle cx="626.3" cy="732.6" r="3.3"/><circle cx="626.7" cy="744.4" r="3.3"/><circle cx="626.9" cy="675.2" r="3.3"/><circle cx="628.2" cy="735.6" r="3.3"/><circle cx="630.4" cy="652.6" r="3.3"/><circle cx="631.4" cy="721.4" r="3.3"/><circle cx="632.1" cy="736.3" r="3.3"/><circle cx="634" cy="749.5" r="3.3"/><circle cx="634.5" cy="712.4" r="3.3"/><circle cx="635.2" cy="743.3" r="3.3"/><circle cx="636.2" cy="722.5" r="3.3"/><circle cx="636.5" cy="696.1" r="3.3"/><circle cx="636.9" cy="740" r="3.3"/><circle cx="638.4" cy="713.7" r="3.3"/><circle cx="639.1" cy="629.5" r="3.3"/><circle cx="639.5" cy="688.9" r="3.3"/><circle cx="641.8" cy="727.5" r="3.3"/><circle cx="643.2" cy="661.2" r="3.3"/><circle cx="645" cy="730.5" r="3.3"/><circle cx="647.5" cy="742.6" r="3.3"/><circle cx="648.6" cy="731.5" r="3.3"/><circle cx="651.1" cy="739.7" r="3.3"/><circle cx="651.6" cy="732.4" r="3.3"/><circle cx="653.8" cy="680.9" r="3.3"/><circle cx="654" cy="677.2" r="3.3"/><circle cx="655.1" cy="643.6" r="3.3"/><circle cx="656.3" cy="620.4" r="3.3"/><circle cx="657.3" cy="686.5" r="3.3"/><circle cx="659.4" cy="678.4" r="3.3"/><circle cx="664" cy="735.6" r="3.3"/><circle cx="666" cy="672.6" r="3.3"/><circle cx="667.7" cy="583.5" r="3.3"/><circle cx="673.5" cy="738.5" r="3.3"/><circle cx="682.4" cy="659.4" r="3.3"/><circle cx="707.8" cy="684.8" r="3.3"/>
</g>
</g>
<path d="M56.3 415.7V779.2" stroke="#858585" stroke-width="1.2"/>
<path d="M55.7 416.3H739.8" stroke="#8a8a8a" stroke-width="1.2"/>
<path d="M739.2 415.7V779.2" stroke="#b2b2b2" stroke-width="1.8"/>
<path d="M55.7 778.6H739.8" stroke="#8a8a8a" stroke-width="1.3"/>
<path d="M93 778.6v2.7M166.8 778.6v2.7M238.8 778.6v2.7M312 778.6v2.7M385.8 778.6v2.7M458.4 778.6v2.7M531.6 778.6v2.7M605.6 778.6v2.7M677.5 778.6v2.7" stroke="#8a8a8a" stroke-width="1.1" fill="none"/>
<text x="93" y="794.7" font-size="13.2" text-anchor="middle" fill="#1c1c1c" stroke="#1c1c1c" stroke-width="0.22" textLength="53.2" lengthAdjust="spacingAndGlyphs">2018-07</text>
<text x="166.8" y="794.7" font-size="13.2" text-anchor="middle" fill="#1c1c1c" stroke="#1c1c1c" stroke-width="0.22" textLength="53.2" lengthAdjust="spacingAndGlyphs">2018-11</text>
<text x="238.8" y="794.7" font-size="13.2" text-anchor="middle" fill="#1c1c1c" stroke="#1c1c1c" stroke-width="0.22" textLength="53.2" lengthAdjust="spacingAndGlyphs">2019-03</text>
<text x="312" y="794.7" font-size="13.2" text-anchor="middle" fill="#1c1c1c" stroke="#1c1c1c" stroke-width="0.22" textLength="53.2" lengthAdjust="spacingAndGlyphs">2019-07</text>
<text x="385.8" y="794.7" font-size="13.2" text-anchor="middle" fill="#1c1c1c" stroke="#1c1c1c" stroke-width="0.22" textLength="53.2" lengthAdjust="spacingAndGlyphs">2019-11</text>
<text x="458.4" y="794.7" font-size="13.2" text-anchor="middle" fill="#1c1c1c" stroke="#1c1c1c" stroke-width="0.22" textLength="53.2" lengthAdjust="spacingAndGlyphs">2020-03</text>
<text x="531.6" y="794.7" font-size="13.2" text-anchor="middle" fill="#1c1c1c" stroke="#1c1c1c" stroke-width="0.22" textLength="53.2" lengthAdjust="spacingAndGlyphs">2020-07</text>
<text x="605.6" y="794.7" font-size="13.2" text-anchor="middle" fill="#1c1c1c" stroke="#1c1c1c" stroke-width="0.22" textLength="53.2" lengthAdjust="spacingAndGlyphs">2020-11</text>
<text x="677.5" y="794.7" font-size="13.2" text-anchor="middle" fill="#1c1c1c" stroke="#1c1c1c" stroke-width="0.22" textLength="53.2" lengthAdjust="spacingAndGlyphs">2021-03</text>
<path d="M56.3 454.8h-2.7M56.3 512.6h-2.7M56.3 570.6h-2.7M56.3 628.4h-2.7M56.3 686.3h-2.7M56.3 744.4h-2.7" stroke="#8a8a8a" stroke-width="1.1" fill="none"/>
<text x="50" y="460.2" font-size="13.2" text-anchor="end" fill="#1c1c1c" stroke="#1c1c1c" stroke-width="0.22" textLength="23.8" lengthAdjust="spacingAndGlyphs">350</text>
<text x="50" y="518" font-size="13.2" text-anchor="end" fill="#1c1c1c" stroke="#1c1c1c" stroke-width="0.22" textLength="23.8" lengthAdjust="spacingAndGlyphs">300</text>
<text x="50" y="576" font-size="13.2" text-anchor="end" fill="#1c1c1c" stroke="#1c1c1c" stroke-width="0.22" textLength="23.8" lengthAdjust="spacingAndGlyphs">250</text>
<text x="50" y="633.8" font-size="13.2" text-anchor="end" fill="#1c1c1c" stroke="#1c1c1c" stroke-width="0.22" textLength="23.8" lengthAdjust="spacingAndGlyphs">200</text>
<text x="50" y="691.7" font-size="13.2" text-anchor="end" fill="#1c1c1c" stroke="#1c1c1c" stroke-width="0.22" textLength="23.8" lengthAdjust="spacingAndGlyphs">150</text>
<text x="50" y="749.8" font-size="13.2" text-anchor="end" fill="#1c1c1c" stroke="#1c1c1c" stroke-width="0.22" textLength="23.8" lengthAdjust="spacingAndGlyphs">100</text>
<text x="397.8" y="812.3" font-size="15.8" text-anchor="middle" fill="#1c1c1c" stroke="#1c1c1c" stroke-width="0.22" textLength="75" lengthAdjust="spacingAndGlyphs">Datetime</text>
<text x="19.1" y="597.4" font-size="15.8" text-anchor="middle" fill="#1c1c1c" stroke="#1c1c1c" stroke-width="0.22" textLength="83" lengthAdjust="spacingAndGlyphs" transform="rotate(-90 19.1 597.4)">XCO (ppb)</text>
<text x="368" y="449.3" font-size="20" text-anchor="start" fill="#1c1c1c" stroke="#1c1c1c" stroke-width="0.22">Xianghe</text>
<rect x="64.6" y="424.5" width="125.6" height="52.8" rx="2.5" fill="#fff" fill-opacity="0.8" stroke="#dcdcdc" stroke-width="1.2"/>
<path d="M88 429.9V446.3M86.4 429.9h3.2M86.4 446.3h3.2" fill="none" stroke="#4a940d" stroke-width="1.2"/>
<g fill="#4a940d" stroke="#1c1c1c" stroke-width="0.9">
<circle cx="88" cy="438.1" r="3.3"/>
</g>
<path d="M88 453.8V470.2M86.4 453.8h3.2M86.4 470.2h3.2" fill="none" stroke="#ffa500" stroke-width="1.2"/>
<g fill="#ffa500" stroke="#1c1c1c" stroke-width="0.9">
<circle cx="88" cy="462" r="3.3"/>
</g>
<text x="116.9" y="444" font-size="15.6" text-anchor="start" fill="#1c1c1c" stroke="#1c1c1c" stroke-width="0.22" textLength="67" lengthAdjust="spacingAndGlyphs">Tropomi</text>
<text x="116.9" y="467.8" font-size="15.6" text-anchor="start" fill="#1c1c1c" stroke="#1c1c1c" stroke-width="0.22" textLength="64.6" lengthAdjust="spacingAndGlyphs">G-B FTS</text>
<text x="696.3" y="762.9" font-size="27.6" text-anchor="start" fill="#000" font-family='"Liberation Serif", serif' font-weight="bold" textLength="31.4" lengthAdjust="spacingAndGlyphs">(c)</text>
<clipPath id="cb"><rect x="789.5" y="14.6" width="359.20000000000005" height="357.0"/></clipPath>
<g clip-path="url(#cb)">
<path d="M789.5 371.6L1148.7 14.6" fill="none" stroke="#4a940d" stroke-width="1.5" stroke-dasharray="4.3 2.1" stroke-linejoin="round" opacity="0.85"/>
<path d="M789.5 354L1148.7 38.4" fill="none" stroke="#ffa500" stroke-width="1.4" stroke-linejoin="round" opacity="0.85"/>
<path d="M856.9 291.5V301.5M867.1 282V293.2M867.8 263.1V274.3M871.2 285.3V293.7M873 278.7V287.1M875.6 288.4V300.8M875.6 267.2V279.6M878.5 273.6V282M879.7 277V288.2M882.5 265.8V274.2M883.7 270.1V282.5M884.8 275.4V285.4M886.6 269.2V277.6M887.6 282.7V293.9M885.6 256.2V268.6M888.3 254V266.4M891.7 257.5V265.9M892.9 262.6V271M894.3 271.7V280.1M896.5 255.2V267.6M896.8 274.4V285.6M899 239.3V250.5M899.5 243.8V253.8M901.5 249.2V257.6M903.8 250.2V261.4M904.1 258.7V267.1M902.2 262.9V271.3M903.4 281.2V289.6M907.1 241.4V249.8M915.8 255.7V265.7M922.7 254.5V266.9M916.6 240.4V251.6M918.8 234.9V246.1M918 232.3V242.3M920.2 227.8V236.2M925.3 218.1V229.3M926.8 223.2V234.4M934.4 227.6V238.8M943.2 219.7V229.7M954.2 227.4V239.8M897.1 209.2V221.6M1068.7 116.6V129M1053.5 133.9V146.3M1005.1 132.7V141.1M999.2 171.5V182.7M1000 182.6V195M983.4 177.5V187.5M973.2 180.9V192.1M966.2 181.5V193.9M949.8 188.4V199.6M947.3 196.7V207.9M951.4 196V207.2M937.8 205V213.4M940 204.9V217.3M956.5 205.5V216.7M947.3 212V220.4M928.3 210.7V223.1M932.2 211.9V221.9M937.8 212.3V220.7M925.7 217.2V228.4M942.9 217.6V230" fill="none" stroke="#ffb020" stroke-width="1.2"/>
<g fill="#ffa500" stroke="#b8730a" stroke-width="0.85">
<circle cx="856.9" cy="296.5" r="2.4"/><circle cx="867.1" cy="287.6" r="2.4"/><circle cx="867.8" cy="268.7" r="2.4"/><circle cx="871.2" cy="289.5" r="2.4"/><circle cx="873" cy="282.9" r="2.4"/><circle cx="875.6" cy="294.6" r="2.4"/><circle cx="875.6" cy="273.4" r="2.4"/><circle cx="878.5" cy="277.8" r="2.4"/><circle cx="879.7" cy="282.6" r="2.4"/><circle cx="882.5" cy="270" r="2.4"/><circle cx="883.7" cy="276.3" r="2.4"/><circle cx="884.8" cy="280.4" r="2.4"/><circle cx="886.6" cy="273.4" r="2.4"/><circle cx="887.6" cy="288.3" r="2.4"/><circle cx="885.6" cy="262.4" r="2.4"/><circle cx="888.3" cy="260.2" r="2.4"/><circle cx="891.7" cy="261.7" r="2.4"/><circle cx="892.9" cy="266.8" r="2.4"/><circle cx="894.3" cy="275.9" r="2.4"/><circle cx="896.5" cy="261.4" r="2.4"/><circle cx="896.8" cy="280" r="2.4"/><circle cx="899" cy="244.9" r="2.4"/><circle cx="899.5" cy="248.8" r="2.4"/><circle cx="901.5" cy="253.4" r="2.4"/><circle cx="903.8" cy="255.8" r="2.4"/><circle cx="904.1" cy="262.9" r="2.4"/><circle cx="902.2" cy="267.1" r="2.4"/><circle cx="903.4" cy="285.4" r="2.4"/><circle cx="907.1" cy="245.6" r="2.4"/><circle cx="915.8" cy="260.7" r="2.4"/><circle cx="922.7" cy="260.7" r="2.4"/><circle cx="916.6" cy="246" r="2.4"/><circle cx="918.8" cy="240.5" r="2.4"/><circle cx="918" cy="237.3" r="2.4"/><circle cx="920.2" cy="232" r="2.4"/><circle cx="925.3" cy="223.7" r="2.4"/><circle cx="926.8" cy="228.8" r="2.4"/><circle cx="934.4" cy="233.2" r="2.4"/><circle cx="943.2" cy="224.7" r="2.4"/><circle cx="954.2" cy="233.6" r="2.4"/><circle cx="897.1" cy="215.4" r="2.4"/><circle cx="1068.7" cy="122.8" r="2.4"/><circle cx="1053.5" cy="140.1" r="2.4"/><circle cx="1005.1" cy="136.9" r="2.4"/><circle cx="999.2" cy="177.1" r="2.4"/><circle cx="1000" cy="188.8" r="2.4"/><circle cx="983.4" cy="182.5" r="2.4"/><circle cx="973.2" cy="186.5" r="2.4"/><circle cx="966.2" cy="187.7" r="2.4"/><circle cx="949.8" cy="194" r="2.4"/><circle cx="947.3" cy="202.3" r="2.4"/><circle cx="951.4" cy="201.6" r="2.4"/><circle cx="937.8" cy="209.2" r="2.4"/><circle cx="940" cy="211.1" r="2.4"/><circle cx="956.5" cy="211.1" r="2.4"/><circle cx="947.3" cy="216.2" r="2.4"/><circle cx="928.3" cy="216.9" r="2.4"/><circle cx="932.2" cy="216.9" r="2.4"/><circle cx="937.8" cy="216.5" r="2.4"/><circle cx="925.7" cy="222.8" r="2.4"/><circle cx="942.9" cy="223.8" r="2.4"/>
</g>
</g>
<path d="M789.5 14V372.2" stroke="#8a8a8a" stroke-width="1.3"/>
<path d="M788.9 14.6H1149.3" stroke="#8a8a8a" stroke-width="1.3"/>
<path d="M1148.7 14V372.2" stroke="#b0b0b0" stroke-width="1.5"/>
<path d="M788.9 371.6H1149.3" stroke="#a0a0a0" stroke-width="1.6"/>
<path d="M829.4 371.6v2.4M869.3 371.6v2.4M909.2 371.6v2.4M949.1 371.6v2.4M989.1 371.6v2.4M1029 371.6v2.4M1068.9 371.6v2.4M1108.8 371.6v2.4M1148.7 371.6v2.4" stroke="#8a8a8a" stroke-width="1.1" fill="none"/>
<path d="M789.5 331.9h-2.4M789.5 292.3h-2.4M789.5 252.6h-2.4M789.5 212.9h-2.4M789.5 173.3h-2.4M789.5 133.6h-2.4M789.5 93.9h-2.4M789.5 54.3h-2.4M789.5 14.6h-2.4" stroke="#8a8a8a" stroke-width="1.1" fill="none"/>
<text x="829.4" y="384" font-size="10.1" text-anchor="middle" fill="#1c1c1c" textLength="12.8" lengthAdjust="spacingAndGlyphs">80</text>
<text x="869.3" y="384" font-size="10.1" text-anchor="middle" fill="#1c1c1c" textLength="19.2" lengthAdjust="spacingAndGlyphs">100</text>
<text x="909.2" y="384" font-size="10.1" text-anchor="middle" fill="#1c1c1c" textLength="19.2" lengthAdjust="spacingAndGlyphs">120</text>
<text x="949.1" y="384" font-size="10.1" text-anchor="middle" fill="#1c1c1c" textLength="19.2" lengthAdjust="spacingAndGlyphs">140</text>
<text x="989.1" y="384" font-size="10.1" text-anchor="middle" fill="#1c1c1c" textLength="19.2" lengthAdjust="spacingAndGlyphs">160</text>
<text x="1029" y="384" font-size="10.1" text-anchor="middle" fill="#1c1c1c" textLength="19.2" lengthAdjust="spacingAndGlyphs">180</text>
<text x="1068.9" y="384" font-size="10.1" text-anchor="middle" fill="#1c1c1c" textLength="19.2" lengthAdjust="spacingAndGlyphs">200</text>
<text x="1108.8" y="384" font-size="10.1" text-anchor="middle" fill="#1c1c1c" textLength="19.2" lengthAdjust="spacingAndGlyphs">220</text>
<text x="1148.7" y="384" font-size="10.1" text-anchor="middle" fill="#1c1c1c" textLength="19.2" lengthAdjust="spacingAndGlyphs">240</text>
<text x="784.8" y="335.8" font-size="10.1" text-anchor="end" fill="#1c1c1c" textLength="12.8" lengthAdjust="spacingAndGlyphs">80</text>
<text x="784.8" y="296.2" font-size="10.1" text-anchor="end" fill="#1c1c1c" textLength="19.2" lengthAdjust="spacingAndGlyphs">100</text>
<text x="784.8" y="256.5" font-size="10.1" text-anchor="end" fill="#1c1c1c" textLength="19.2" lengthAdjust="spacingAndGlyphs">120</text>
<text x="784.8" y="216.8" font-size="10.1" text-anchor="end" fill="#1c1c1c" textLength="19.2" lengthAdjust="spacingAndGlyphs">140</text>
<text x="784.8" y="177.2" font-size="10.1" text-anchor="end" fill="#1c1c1c" textLength="19.2" lengthAdjust="spacingAndGlyphs">160</text>
<text x="784.8" y="137.5" font-size="10.1" text-anchor="end" fill="#1c1c1c" textLength="19.2" lengthAdjust="spacingAndGlyphs">180</text>
<text x="784.8" y="97.8" font-size="10.1" text-anchor="end" fill="#1c1c1c" textLength="19.2" lengthAdjust="spacingAndGlyphs">200</text>
<text x="784.8" y="58.2" font-size="10.1" text-anchor="end" fill="#1c1c1c" textLength="19.2" lengthAdjust="spacingAndGlyphs">220</text>
<text x="784.8" y="18.5" font-size="10.1" text-anchor="end" fill="#1c1c1c" textLength="19.2" lengthAdjust="spacingAndGlyphs">240</text>
<text x="969.1" y="398.7" font-size="13.1" text-anchor="middle" fill="#1c1c1c" stroke="#1c1c1c" stroke-width="0.22" textLength="162.2" lengthAdjust="spacingAndGlyphs">Ground-based FTIR (ppb)</text>
<text x="759.3" y="193.6" font-size="13.1" text-anchor="middle" fill="#1c1c1c" stroke="#1c1c1c" stroke-width="0.22" textLength="94.7" lengthAdjust="spacingAndGlyphs" transform="rotate(-90 759.3 193.6)">TROPOMI(ppb)</text>
<text x="933" y="42.8" font-size="20" text-anchor="start" fill="#1c1c1c" stroke="#1c1c1c" stroke-width="0.22">Hefei</text>
<rect x="792.2" y="18" width="56.4" height="21.3" rx="1.5" fill="#fff" fill-opacity="0.8" stroke="#d8d8d8" stroke-width="0.8"/>
<path d="M795.2 23.3H807" stroke="#4a940d" stroke-width="1.4" stroke-dasharray="4.6 2.2"/>
<g fill="#ffa500" stroke="#b8730a" stroke-width="0.85">
<circle cx="802" cy="33.1" r="2.9"/>
</g>
<text x="813.5" y="25.5" font-size="6.6" text-anchor="start" fill="#1c1c1c" textLength="11.6" lengthAdjust="spacingAndGlyphs">y=x</text>
<text x="813.5" y="35.3" font-size="6.6" text-anchor="start" fill="#1c1c1c" textLength="32.3" lengthAdjust="spacingAndGlyphs">data pairs</text>
<text x="1102.5" y="356.1" font-size="27.6" text-anchor="start" fill="#000" font-family='"Liberation Serif", serif' font-weight="bold" textLength="34.7" lengthAdjust="spacingAndGlyphs">(b)</text>
<clipPath id="cd"><rect x="788.8" y="414.0" width="363.60000000000014" height="361.4"/></clipPath>
<g clip-path="url(#cd)">
<path d="M788.8 775.4L1152.4 414" fill="none" stroke="#4a940d" stroke-width="1.5" stroke-dasharray="4.3 2.1" stroke-linejoin="round" opacity="0.85"/>
<path d="M1011.1 517.1H1025.1M1037.5 523.5H1048.5M1001.1 533.5H1011.1M932.9 639H942.9M1015.7 553.6H1022.7M964 573.3V581.3M892.4 627.2V635.2" stroke="#ffa500" stroke-width="1.2" fill="none"/>
<path d="M788.8 768.1L1148.2 414" fill="none" stroke="#ffa500" stroke-width="1.4" stroke-linejoin="round" opacity="0.85"/>
<path d="M819.9 737.5V744.1M823.2 734.8V741.4M823.9 726.4V733M826.8 727.3V733.9M828 728.8V735.4M830.8 723.9V730.5M833.8 726.4V733M836.8 726.4V733M843.4 728.5V735.1M843.4 723V729.6M839.8 722.7V729.3M836.2 721.5V728.1M853.3 723.3V729.9M829.6 719.1V725.7M832.6 719.1V725.7M838.6 718.5V725.1M835 715.5V722.1M842.2 716.1V722.7M847.1 716.5V723.1M849.5 714.3V720.9M832 711.9V718.5M835 707.6V714.2M838.6 709.5V716.1M841.6 712.5V719.1M844.7 710.7V717.3M848.3 709.5V716.1M842.2 702.8V709.4M846.5 702.2V708.8M848.3 705.2V711.8M851.3 702.8V709.4M853.1 703.4V710M850.1 696.2V702.8M856.7 697.4V704M859.7 694.4V701M851.9 699.2V705.8M854.3 688.6V695.2M860.3 686.5V693.1M865.8 692.6V699.2M870 688.3V694.9M857.9 709.5V716.1M859.7 707V713.6M860.3 704.6V711.2M864 701.6V708.2M869.2 706.2V712.8M872 699.4V706M877.2 698V704.6M873.9 695V701.6M862.5 682.1V688.7M867 684.5V691.1M870.6 682.1V688.7M874.8 686.5V693.1M877.2 679.9V686.5M880.9 675.7V682.3M882.1 688.9V695.5M884.1 688.3V694.9M887.1 683.5V690.1M892.9 685.9V692.5M871.2 672V678.6M873.9 662.4V669M877.2 667.5V674.1M884.1 652.1V658.7M888.1 658.2V664.8M888.1 660.6V667.2M892.9 658.4V665M886.7 667.2V673.8M889.9 665.4V672M892.7 668.2V674.8M891.7 676V682.6M897.2 660.6V667.2M898 655.4V662M897.8 664.8V671.4M899.6 668.4V675M900.4 672.3V678.9M903.4 673.9V680.5M905.6 676.3V682.9M903.8 651.5V658.1M903.8 654.5V661.1M904.4 662.6V669.2M908.4 660.6V667.2M912.8 656.6V663.2M916.1 665.4V672M906.8 648.5V655.1M911 647.3V653.9M917.1 653.9V660.5M919.5 650.3V656.9M917.1 647.9V654.5M925.5 650.3V656.9M927.9 648.5V655.1M932.2 655.8V662.4M933.4 652.1V658.7M962.2 560.3V566.9M995.6 562.5V569.1M1012.1 571.8V578.4M964 574V580.6M974.5 578.8V585.4M965.1 587.2V593.8M967.8 588.7V595.3M957.6 589.5V596.1M972.9 594.5V601.1M952.4 602.3V608.9M899.9 600.8V607.4M908.1 614.6V621.2M947.6 609.2V615.8M945.8 612.5V619.1M950.9 613.2V619.8M955.2 613.4V620M950 616.4V623M953.4 619.7V626.3M940.3 615.5V622.1M933.4 616.2V622.8M934.9 616.7V623.3M924.2 618.5V625.1M924.6 624V630.6M940.7 622.8V629.4M892.4 627.9V634.5M912.3 627.3V633.9M909.9 630.6V637.2M915.7 630.3V636.9M912.1 632.7V639.3M921.1 633.3V639.9M926.6 636.1V642.7M937.9 635.7V642.3M950.7 634.5V641.1M906.9 637.3V643.9M909.9 638.5V645.1M895.2 643.8V650.4M905.3 643V649.6M903.5 646.2V652.8M910.8 646.6V653.2M907.5 648.7V655.3M904.2 650.2V656.8M924.4 644V650.6M917.2 647.5V654.1M919 649.9V656.5M928 649V655.6M925.6 650.2V656.8M933.4 652.9V659.5M917.5 653.9V660.5M898.2 654.7V661.3M903.9 654.2V660.8M1097.3 482.3V488.9M1018.1 513.8V520.4M1043 520.2V526.8M1006.1 530.2V536.8M942.9 544.7V551.3M994.7 552.8V559.4M1019.2 550.3V556.9M894.6 461.2V467.8" fill="none" stroke="#ffb020" stroke-width="1.1"/>
<g fill="#ffa500" stroke="#b8730a" stroke-width="0.85">
<circle cx="821.2" cy="741.1" r="2.45"/><circle cx="823.1" cy="738.4" r="2.45"/><circle cx="826.4" cy="731" r="2.45"/><circle cx="828.3" cy="731" r="2.45"/><circle cx="831.6" cy="728.3" r="2.45"/><circle cx="834.7" cy="728.4" r="2.45"/><circle cx="839.8" cy="726.5" r="2.45"/><circle cx="835.7" cy="725.4" r="2.45"/><circle cx="829.9" cy="723.8" r="2.45"/><circle cx="839.6" cy="723.3" r="2.45"/><circle cx="835.8" cy="717.9" r="2.45"/><circle cx="848" cy="718.3" r="2.45"/><circle cx="833.1" cy="715.4" r="2.45"/><circle cx="839.7" cy="711.4" r="2.45"/><circle cx="848.3" cy="713.9" r="2.45"/><circle cx="842.7" cy="705.4" r="2.45"/><circle cx="848" cy="707.6" r="2.45"/><circle cx="852.4" cy="706.5" r="2.45"/><circle cx="853.3" cy="708.3" r="2.45"/><circle cx="856.6" cy="701.5" r="2.45"/><circle cx="855.6" cy="693" r="2.45"/><circle cx="857.1" cy="711.3" r="2.45"/><circle cx="859.4" cy="709.2" r="2.45"/><circle cx="862.5" cy="704.9" r="2.45"/><circle cx="869.2" cy="708.7" r="2.45"/><circle cx="872.2" cy="701.3" r="2.45"/><circle cx="872.7" cy="699.8" r="2.45"/><circle cx="819.9" cy="740.8" r="2.45"/><circle cx="823.2" cy="738.1" r="2.45"/><circle cx="823.9" cy="729.7" r="2.45"/><circle cx="826.8" cy="730.6" r="2.45"/><circle cx="828" cy="732.1" r="2.45"/><circle cx="830.8" cy="727.2" r="2.45"/><circle cx="833.8" cy="729.7" r="2.45"/><circle cx="836.8" cy="729.7" r="2.45"/><circle cx="843.4" cy="731.8" r="2.45"/><circle cx="843.4" cy="726.3" r="2.45"/><circle cx="839.8" cy="726" r="2.45"/><circle cx="836.2" cy="724.8" r="2.45"/><circle cx="853.3" cy="726.6" r="2.45"/><circle cx="829.6" cy="722.4" r="2.45"/><circle cx="832.6" cy="722.4" r="2.45"/><circle cx="838.6" cy="721.8" r="2.45"/><circle cx="835" cy="718.8" r="2.45"/><circle cx="842.2" cy="719.4" r="2.45"/><circle cx="847.1" cy="719.8" r="2.45"/><circle cx="849.5" cy="717.6" r="2.45"/><circle cx="832" cy="715.2" r="2.45"/><circle cx="835" cy="710.9" r="2.45"/><circle cx="838.6" cy="712.8" r="2.45"/><circle cx="841.6" cy="715.8" r="2.45"/><circle cx="844.7" cy="714" r="2.45"/><circle cx="848.3" cy="712.8" r="2.45"/><circle cx="842.2" cy="706.1" r="2.45"/><circle cx="846.5" cy="705.5" r="2.45"/><circle cx="848.3" cy="708.5" r="2.45"/><circle cx="851.3" cy="706.1" r="2.45"/><circle cx="853.1" cy="706.7" r="2.45"/><circle cx="850.1" cy="699.5" r="2.45"/><circle cx="856.7" cy="700.7" r="2.45"/><circle cx="859.7" cy="697.7" r="2.45"/><circle cx="851.9" cy="702.5" r="2.45"/><circle cx="854.3" cy="691.9" r="2.45"/><circle cx="860.3" cy="689.8" r="2.45"/><circle cx="865.8" cy="695.9" r="2.45"/><circle cx="870" cy="691.6" r="2.45"/><circle cx="857.9" cy="712.8" r="2.45"/><circle cx="859.7" cy="710.3" r="2.45"/><circle cx="860.3" cy="707.9" r="2.45"/><circle cx="864" cy="704.9" r="2.45"/><circle cx="869.2" cy="709.5" r="2.45"/><circle cx="872" cy="702.7" r="2.45"/><circle cx="877.2" cy="701.3" r="2.45"/><circle cx="873.9" cy="698.3" r="2.45"/><circle cx="862.5" cy="685.4" r="2.45"/><circle cx="867" cy="687.8" r="2.45"/><circle cx="870.6" cy="685.4" r="2.45"/><circle cx="874.8" cy="689.8" r="2.45"/><circle cx="877.2" cy="683.2" r="2.45"/><circle cx="880.9" cy="679" r="2.45"/><circle cx="882.1" cy="692.2" r="2.45"/><circle cx="884.1" cy="691.6" r="2.45"/><circle cx="887.1" cy="686.8" r="2.45"/><circle cx="892.9" cy="689.2" r="2.45"/><circle cx="871.2" cy="675.3" r="2.45"/><circle cx="873.9" cy="665.7" r="2.45"/><circle cx="877.2" cy="670.8" r="2.45"/><circle cx="884.1" cy="655.4" r="2.45"/><circle cx="888.1" cy="661.5" r="2.45"/><circle cx="888.1" cy="663.9" r="2.45"/><circle cx="892.9" cy="661.7" r="2.45"/><circle cx="886.7" cy="670.5" r="2.45"/><circle cx="889.9" cy="668.7" r="2.45"/><circle cx="892.7" cy="671.5" r="2.45"/><circle cx="891.7" cy="679.3" r="2.45"/><circle cx="897.2" cy="663.9" r="2.45"/><circle cx="898" cy="658.7" r="2.45"/><circle cx="897.8" cy="668.1" r="2.45"/><circle cx="899.6" cy="671.7" r="2.45"/><circle cx="900.4" cy="675.6" r="2.45"/><circle cx="903.4" cy="677.2" r="2.45"/><circle cx="905.6" cy="679.6" r="2.45"/><circle cx="903.8" cy="654.8" r="2.45"/><circle cx="903.8" cy="657.8" r="2.45"/><circle cx="904.4" cy="665.9" r="2.45"/><circle cx="908.4" cy="663.9" r="2.45"/><circle cx="912.8" cy="659.9" r="2.45"/><circle cx="916.1" cy="668.7" r="2.45"/><circle cx="906.8" cy="651.8" r="2.45"/><circle cx="911" cy="650.6" r="2.45"/><circle cx="917.1" cy="657.2" r="2.45"/><circle cx="919.5" cy="653.6" r="2.45"/><circle cx="917.1" cy="651.2" r="2.45"/><circle cx="925.5" cy="653.6" r="2.45"/><circle cx="927.9" cy="651.8" r="2.45"/><circle cx="932.2" cy="659.1" r="2.45"/><circle cx="933.4" cy="655.4" r="2.45"/><circle cx="962.2" cy="563.6" r="2.45"/><circle cx="995.6" cy="565.8" r="2.45"/><circle cx="1012.1" cy="575.1" r="2.45"/><circle cx="964" cy="577.3" r="2.45"/><circle cx="974.5" cy="582.1" r="2.45"/><circle cx="965.1" cy="590.5" r="2.45"/><circle cx="967.8" cy="592" r="2.45"/><circle cx="957.6" cy="592.8" r="2.45"/><circle cx="972.9" cy="597.8" r="2.45"/><circle cx="952.4" cy="605.6" r="2.45"/><circle cx="899.9" cy="604.1" r="2.45"/><circle cx="908.1" cy="617.9" r="2.45"/><circle cx="947.6" cy="612.5" r="2.45"/><circle cx="945.8" cy="615.8" r="2.45"/><circle cx="950.9" cy="616.5" r="2.45"/><circle cx="955.2" cy="616.7" r="2.45"/><circle cx="950" cy="619.7" r="2.45"/><circle cx="953.4" cy="623" r="2.45"/><circle cx="940.3" cy="618.8" r="2.45"/><circle cx="933.4" cy="619.5" r="2.45"/><circle cx="934.9" cy="620" r="2.45"/><circle cx="924.2" cy="621.8" r="2.45"/><circle cx="924.6" cy="627.3" r="2.45"/><circle cx="940.7" cy="626.1" r="2.45"/><circle cx="892.4" cy="631.2" r="2.45"/><circle cx="912.3" cy="630.6" r="2.45"/><circle cx="909.9" cy="633.9" r="2.45"/><circle cx="915.7" cy="633.6" r="2.45"/><circle cx="912.1" cy="636" r="2.45"/><circle cx="921.1" cy="636.6" r="2.45"/><circle cx="926.6" cy="639.4" r="2.45"/><circle cx="937.9" cy="639" r="2.45"/><circle cx="950.7" cy="637.8" r="2.45"/><circle cx="906.9" cy="640.6" r="2.45"/><circle cx="909.9" cy="641.8" r="2.45"/><circle cx="895.2" cy="647.1" r="2.45"/><circle cx="905.3" cy="646.3" r="2.45"/><circle cx="903.5" cy="649.5" r="2.45"/><circle cx="910.8" cy="649.9" r="2.45"/><circle cx="907.5" cy="652" r="2.45"/><circle cx="904.2" cy="653.5" r="2.45"/><circle cx="924.4" cy="647.3" r="2.45"/><circle cx="917.2" cy="650.8" r="2.45"/><circle cx="919" cy="653.2" r="2.45"/><circle cx="928" cy="652.3" r="2.45"/><circle cx="925.6" cy="653.5" r="2.45"/><circle cx="933.4" cy="656.2" r="2.45"/><circle cx="917.5" cy="657.2" r="2.45"/><circle cx="898.2" cy="658" r="2.45"/><circle cx="903.9" cy="657.5" r="2.45"/><circle cx="1097.3" cy="485.6" r="2.45"/><circle cx="1018.1" cy="517.1" r="2.45"/><circle cx="1043" cy="523.5" r="2.45"/><circle cx="1006.1" cy="533.5" r="2.45"/><circle cx="942.9" cy="548" r="2.45"/><circle cx="994.7" cy="556.1" r="2.45"/><circle cx="1019.2" cy="553.6" r="2.45"/><circle cx="894.6" cy="464.5" r="2.45"/>
</g>
</g>
<path d="M788.8 413.4V776" stroke="#8a8a8a" stroke-width="1.3"/>
<path d="M788.2 414H1153" stroke="#a4a4a4" stroke-width="1.9"/>
<path d="M1152.4 413.4V776" stroke="#9c9c9c" stroke-width="1.5"/>
<path d="M788.2 775.4H1153" stroke="#8a8a8a" stroke-width="1.3"/>
<path d="M837.3 775.4v2.4M897.9 775.4v2.4M958.5 775.4v2.4M1019.1 775.4v2.4M1079.7 775.4v2.4M1140.3 775.4v2.4" stroke="#8a8a8a" stroke-width="1.1" fill="none"/>
<path d="M788.8 727.2h-2.4M788.8 667h-2.4M788.8 606.7h-2.4M788.8 546.5h-2.4M788.8 486.3h-2.4M788.8 426h-2.4" stroke="#8a8a8a" stroke-width="1.1" fill="none"/>
<text x="837.3" y="788" font-size="10.1" text-anchor="middle" fill="#1c1c1c" textLength="19.2" lengthAdjust="spacingAndGlyphs">100</text>
<text x="897.9" y="788" font-size="10.1" text-anchor="middle" fill="#1c1c1c" textLength="19.2" lengthAdjust="spacingAndGlyphs">150</text>
<text x="958.5" y="788" font-size="10.1" text-anchor="middle" fill="#1c1c1c" textLength="19.2" lengthAdjust="spacingAndGlyphs">200</text>
<text x="1019.1" y="788" font-size="10.1" text-anchor="middle" fill="#1c1c1c" textLength="19.2" lengthAdjust="spacingAndGlyphs">250</text>
<text x="1079.7" y="788" font-size="10.1" text-anchor="middle" fill="#1c1c1c" textLength="19.2" lengthAdjust="spacingAndGlyphs">300</text>
<text x="1140.3" y="788" font-size="10.1" text-anchor="middle" fill="#1c1c1c" textLength="19.2" lengthAdjust="spacingAndGlyphs">350</text>
<text x="784" y="731.1" font-size="10.1" text-anchor="end" fill="#1c1c1c" textLength="19.2" lengthAdjust="spacingAndGlyphs">100</text>
<text x="784" y="670.9" font-size="10.1" text-anchor="end" fill="#1c1c1c" textLength="19.2" lengthAdjust="spacingAndGlyphs">150</text>
<text x="784" y="610.6" font-size="10.1" text-anchor="end" fill="#1c1c1c" textLength="19.2" lengthAdjust="spacingAndGlyphs">200</text>
<text x="784" y="550.4" font-size="10.1" text-anchor="end" fill="#1c1c1c" textLength="19.2" lengthAdjust="spacingAndGlyphs">250</text>
<text x="784" y="490.2" font-size="10.1" text-anchor="end" fill="#1c1c1c" textLength="19.2" lengthAdjust="spacingAndGlyphs">300</text>
<text x="784" y="429.9" font-size="10.1" text-anchor="end" fill="#1c1c1c" textLength="19.2" lengthAdjust="spacingAndGlyphs">350</text>
<text x="970.4" y="802.6" font-size="13.1" text-anchor="middle" fill="#1c1c1c" stroke="#1c1c1c" stroke-width="0.22" textLength="164.6" lengthAdjust="spacingAndGlyphs">Ground-based FTIR (ppb)</text>
<text x="759.3" y="594.7" font-size="13.1" text-anchor="middle" fill="#1c1c1c" stroke="#1c1c1c" stroke-width="0.22" textLength="94.7" lengthAdjust="spacingAndGlyphs" transform="rotate(-90 759.3 594.7)">TROPOMI(ppb)</text>
<text x="932.5" y="449.4" font-size="20" text-anchor="start" fill="#1c1c1c" stroke="#1c1c1c" stroke-width="0.22">Xianghe</text>
<rect x="791.9" y="417.4" width="56.7" height="21.6" rx="1.5" fill="#fff" fill-opacity="0.8" stroke="#d8d8d8" stroke-width="0.8"/>
<path d="M794.4 422.9H806.8" stroke="#4a940d" stroke-width="1.4" stroke-dasharray="4.6 2.2"/>
<g fill="#ffa500" stroke="#b8730a" stroke-width="0.85">
<circle cx="801.2" cy="432.9" r="2.9"/>
</g>
<text x="813.2" y="425.1" font-size="6.6" text-anchor="start" fill="#1c1c1c" textLength="11.6" lengthAdjust="spacingAndGlyphs">y=x</text>
<text x="813.2" y="435.1" font-size="6.6" text-anchor="start" fill="#1c1c1c" textLength="32.3" lengthAdjust="spacingAndGlyphs">data pairs</text>
<text x="1102.5" y="762.9" font-size="27.6" text-anchor="start" fill="#000" font-family='"Liberation Serif", serif' font-weight="bold" textLength="34.7" lengthAdjust="spacingAndGlyphs">(d)</text>
</svg>
</body></html>
